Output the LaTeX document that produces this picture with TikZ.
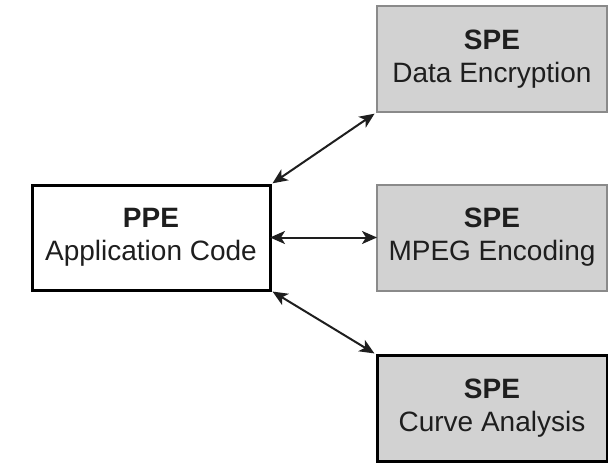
\documentclass[tikz,border=0pt]{standalone}
\usepackage{fontspec}
\setmainfont{Liberation Sans}
\usetikzlibrary{arrows.meta}
\definecolor{spefill}{HTML}{D2D2D2}
\definecolor{speedge}{HTML}{8A8A8A}
\definecolor{ink}{HTML}{1E1E1E}
\tikzset{
  box/.style={rectangle, outer sep=0pt, inner sep=0pt, align=center,
    text=ink, font=\fontsize{28}{33}\selectfont},
  ppebox/.style={box, draw=black, line width=3pt, fill=white},
  spebox/.style={box, draw=speedge, line width=2pt, fill=spefill},
  spebold/.style={box, draw=black, line width=3pt, fill=spefill},
  link/.style={draw=ink, line width=2pt,
    {Stealth[length=15pt,width=13pt,inset=4pt]}-{Stealth[length=15pt,width=13pt,inset=4pt]}}
}
\begin{document}
\begin{tikzpicture}[x=1pt,y=-1pt]
  \useasboundingbox (0,0) rectangle (608,464);
  \fill[white] (0,0) rectangle (608,464);

  \node[ppebox, minimum width=238pt, minimum height=105pt] (ppe) at (151,237.5)
    {\textbf{PPE}\\Application Code};

  \node[spebox, minimum width=230pt, minimum height=106pt] (enc) at (492,59)
    {\textbf{SPE}\\Data Encryption};
  \node[spebox, minimum width=230pt, minimum height=106pt] (mpeg) at (492,237.5)
    {\textbf{SPE}\\MPEG Encoding};
  \node[spebold, minimum width=230pt, minimum height=106pt] (curve) at (492,408)
    {\textbf{SPE}\\Curve Analysis};

  \draw[link, shorten <=3pt, shorten >=3pt] (ppe.north east) -- (enc.south west);
  \draw[link] (ppe.east) -- (mpeg.west);
  \draw[link, shorten <=3pt, shorten >=3pt] (ppe.south east) -- (curve.north west);
\end{tikzpicture}
\end{document}
